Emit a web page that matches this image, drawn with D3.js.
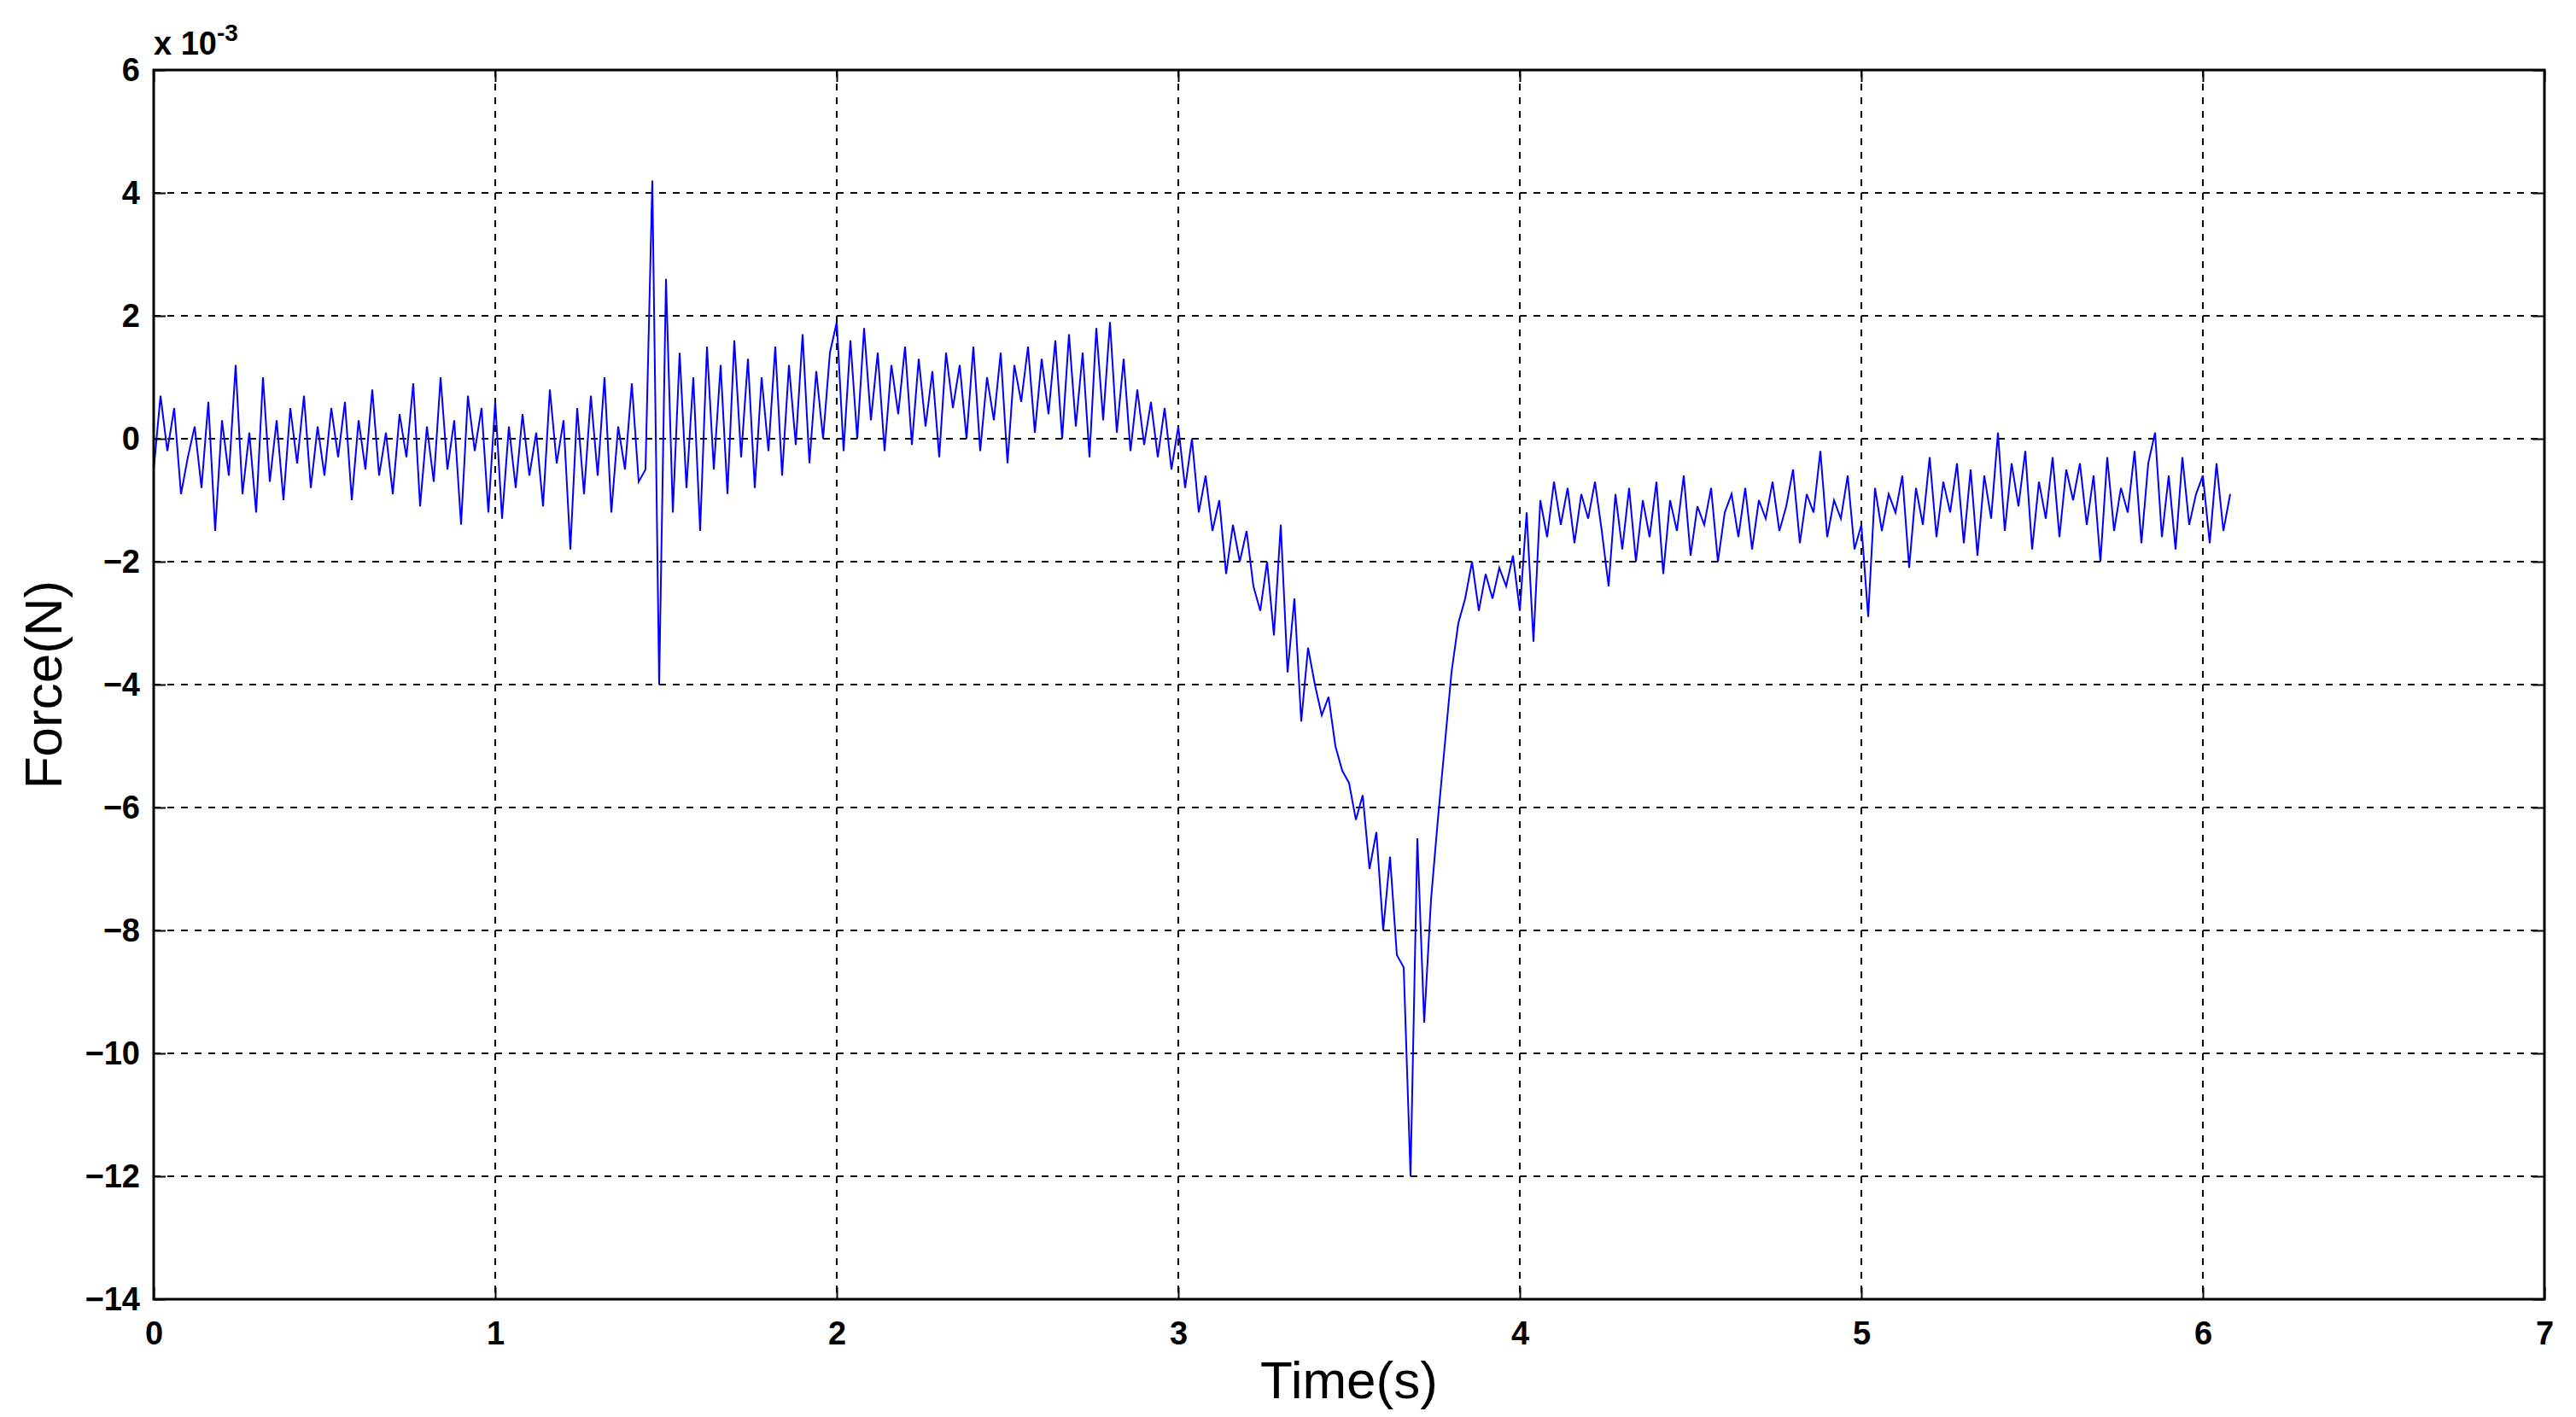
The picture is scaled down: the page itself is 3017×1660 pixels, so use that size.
<!DOCTYPE html>
<html>
<head>
<meta charset="utf-8">
<script src="https://cdn.jsdelivr.net/npm/d3@7"></script>
<style>
  body { margin: 0; background: #fff; }
  text { font-family: "Liberation Sans", Arial, sans-serif; }
</style>
</head>
<body>
<svg id="chart" width="3017" height="1660"></svg>
<script>
// sample step of the recording (s)
const dt = 0.02;
const xTicks = [0, 1, 2, 3, 4, 5, 6, 7];
const yTicks = [6, 4, 2, 0, -2, -4, -6, -8, -10, -12, -14];

// force values in units of 1e-3 N, one list per stretch of the record
const seg0 = [-0.5,0.7,-0.2,0.5,-0.9,-0.3,0.2,-0.8,0.6,-1.5, 0.3,-0.6,1.2,-0.9,0.1,-1.2,1.0,-0.7,0.3,-1.0, 0.5,-0.4,0.7,-0.8,0.2,-0.6,0.5,-0.3,0.6,-1.0, 0.3,-0.5,0.8,-0.6,0.1,-0.9,0.4,-0.3,0.9,-1.1, 0.2,-0.7,1.0,-0.5,0.3,-1.4,0.7,-0.2,0.5,-1.2];
const seg1 = [0.6,-1.3,0.2,-0.8,0.4,-0.6,0.1,-1.1,0.8,-0.4,0.3,-1.8,0.5,-0.9,0.7,-0.6,1.0,-1.2,0.2,-0.5,0.9,-0.7];
const seg2 = [-0.5,4.2,-4.0,2.6,-1.2,1.4,-0.8,1.0,-1.5,1.5,-0.5,1.2,-0.9,1.6,-0.3,1.3,-0.8,1.0,-0.2,1.5,-0.6,1.2,-0.1,1.7,-0.4,1.1,0.0,1.4];
const seg3 = [1.9,-0.2,1.6,0.0,1.8,0.3,1.4,-0.2,1.2,0.4,1.5,-0.1,1.3,0.2,1.1,-0.3,1.4,0.5,1.2,0.0, 1.5,-0.2,1.0,0.3,1.4,-0.4,1.2,0.6,1.5,0.1, 1.3,0.4,1.6,0.0,1.7,0.2,1.4,-0.3,1.8,0.3];
const seg4 = [1.9,0.1,1.3,-0.2,0.8,-0.1,0.6,-0.3,0.5,-0.5];
const seg5 = [0.2,-0.8,0.0,-1.2,-0.6,-1.5,-1.0,-2.2,-1.4,-2.0,-1.5,-2.4,-2.8,-2.0,-3.2];
const seg6 = [-1.4,-3.8,-2.6,-4.6,-3.4,-4.0,-4.5,-4.2,-5.0,-5.4];
const seg7 = [-5.6,-6.2,-5.8,-7.0,-6.4,-8.0,-6.8,-8.4,-8.6,-12.0];
const seg8 = [-6.5,-9.5,-7.5,-6.2,-5.0,-3.8,-3.0,-2.6,-2.0,-2.8,-2.2,-2.6,-2.1,-2.4,-1.9];
const seg9 = [-2.8,-1.2,-3.3,-1.0,-1.6,-0.7,-1.4,-0.8,-1.7,-0.9, -1.3,-0.7,-1.5,-2.4,-0.9,-1.8,-0.8,-2.0,-1.0,-1.6,
  -0.7,-2.2,-1.0,-1.5,-0.6,-1.9,-1.1,-1.4,-0.8,-2.0, -1.2,-0.9,-1.6,-0.8,-1.8,-1.0,-1.3,-0.7,-1.5,-1.1,
  -0.5,-1.7,-0.9,-1.2,-0.2,-1.6,-1.0,-1.3,-0.6,-1.8, -1.4,-2.9,-0.8,-1.5,-0.9,-1.2,-0.6,-2.1,-0.8,-1.4,
  -0.3,-1.6,-0.7,-1.2,-0.4,-1.7,-0.5,-1.9,-0.6,-1.3, 0.1,-1.5,-0.4,-1.1,-0.2,-1.8,-0.7,-1.3,-0.3,-1.6,
  -0.5,-1.0,-0.4,-1.4,-0.6,-2.0,-0.3,-1.5,-0.8,-1.2, -0.2,-1.7,-0.4,0.1,-1.6,-0.6,-1.8,-0.3,-1.4,-0.9,
  -0.6,-1.7,-0.4,-1.5,-0.9];

const force = [].concat(seg0, seg1, seg2, seg3, seg4, seg5, seg6, seg7, seg8, seg9);
const data = force.map((f, i) => ({ t: i * dt, f }));

const margin = {top: 82, right: 37, bottom: 138, left: 180};
const svg = d3.select("#chart");
const width = 3017 - margin.left - margin.right;
const height = 1660 - margin.top - margin.bottom;
const g = svg.append("g").attr("transform", `translate(${margin.left},${margin.top})`);

const x = d3.scaleLinear().domain([0, 7]).range([0, width]);
const y = d3.scaleLinear().domain([-14, 6]).range([height, 0]);

// grid
g.selectAll(".vgrid").data(xTicks.slice(1, -1)).enter().append("line")
  .attr("x1", d => x(d)).attr("x2", d => x(d)).attr("y1", 0).attr("y2", height)
  .attr("stroke", "#000").attr("stroke-width", 2).attr("stroke-dasharray", "8,8");
g.selectAll(".hgrid").data(yTicks.slice(1, -1)).enter().append("line")
  .attr("x1", 0).attr("x2", width).attr("y1", d => y(d)).attr("y2", d => y(d))
  .attr("stroke", "#000").attr("stroke-width", 2).attr("stroke-dasharray", "8,8");

// signal
g.append("path").datum(data)
  .attr("fill", "none").attr("stroke", "#0000ff").attr("stroke-width", 2)
  .attr("d", d3.line().x(d => x(d.t)).y(d => y(d.f)));

// axes with inward ticks
const tickStyle = sel => {
  sel.select(".domain").remove();
  sel.selectAll("text").attr("font-size", 38).attr("font-weight", "bold").attr("fill", "#000");
  sel.selectAll("line").attr("stroke", "#000").attr("stroke-width", 2);
};
g.append("g").attr("transform", `translate(0,${height})`)
  .call(d3.axisBottom(x).tickValues(xTicks).tickSize(-14).tickPadding(26).tickFormat(d3.format("d")))
  .call(tickStyle);
g.append("g")
  .call(d3.axisLeft(y).tickValues(yTicks).tickSize(-14).tickPadding(16).tickFormat(d3.format("d")))
  .call(tickStyle);
g.append("g").attr("transform", `translate(${width},0)`)
  .call(d3.axisLeft(y).tickValues(yTicks).tickSize(14).tickFormat(""))
  .call(tickStyle);
g.append("g")
  .call(d3.axisBottom(x).tickValues(xTicks).tickSize(14).tickFormat(""))
  .call(tickStyle);

// frame
g.append("rect").attr("width", width).attr("height", height)
  .attr("fill", "none").attr("stroke", "#000").attr("stroke-width", 3);

// exponent
const ex = svg.append("text").attr("x", margin.left).attr("y", 64)
  .attr("font-size", 38).attr("font-weight", "bold");
ex.append("tspan").text("x 10");
ex.append("tspan").attr("dy", -16).attr("font-size", 28).text("-3");

// axis labels
svg.append("text").attr("x", margin.left + width / 2).attr("y", 1638)
  .attr("text-anchor", "middle").attr("font-size", 62)
  .text("Time(s)");
svg.append("text").attr("transform", `translate(72,${margin.top + height / 2}) rotate(-90)`)
  .attr("text-anchor", "middle").attr("font-size", 62)
  .text("Force(N)");
</script>
</body>
</html>
